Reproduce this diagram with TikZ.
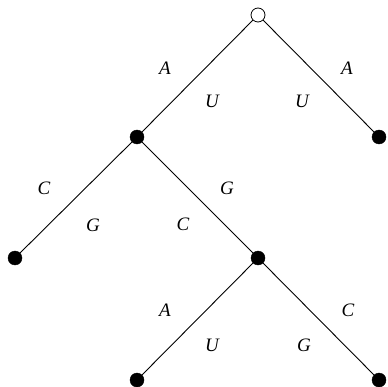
\documentclass[tikz,border=0pt]{standalone}
\usepackage{fontspec}
\setmainfont{Liberation Serif}
\begin{document}
\begin{tikzpicture}[x=1pt,y=-1pt,
  leaf/.style={circle,fill=black,draw=black,inner sep=0pt,minimum size=14pt},
  open/.style={circle,fill=white,draw=black,line width=0.8pt,inner sep=0pt,minimum size=14pt},
  edge/.style={line width=0.9pt},
  lab/.style={font=\itshape,scale=1.9,inner sep=0pt}]
\useasboundingbox (0,0) rectangle (387,387);
\node[open] (r) at (258,15) {};
\node[leaf] (l) at (137,137) {};
\node[leaf] (rr) at (379,137) {};
\node[leaf] (ll) at (15,258) {};
\node[leaf] (lr) at (258,258) {};
\node[leaf] (bl) at (137,380) {};
\node[leaf] (br) at (379,380) {};
\draw[edge] (r) -- (l);
\draw[edge] (r) -- (rr);
\draw[edge] (l) -- (ll);
\draw[edge] (l) -- (lr);
\draw[edge] (lr) -- (bl);
\draw[edge] (lr) -- (br);
\node[lab] (a1) at (165,68) {A};
\node[lab] (u1) at (212,101) {U};
\node[lab] (a2) at (347,68) {A};
\node[lab] (u2) at (302,101) {U};
\node[lab] (c1) at (44,188) {C};
\node[lab] (g1) at (93,225) {G};
\node[lab] (g2) at (227,188) {G};
\node[lab] (c2) at (183,224) {C};
\node[lab] (a3) at (165,310) {A};
\node[lab] (u3) at (212,345) {U};
\node[lab] (c3) at (348,310) {C};
\node[lab] (g3) at (304,345) {G};
\end{tikzpicture}
\end{document}
